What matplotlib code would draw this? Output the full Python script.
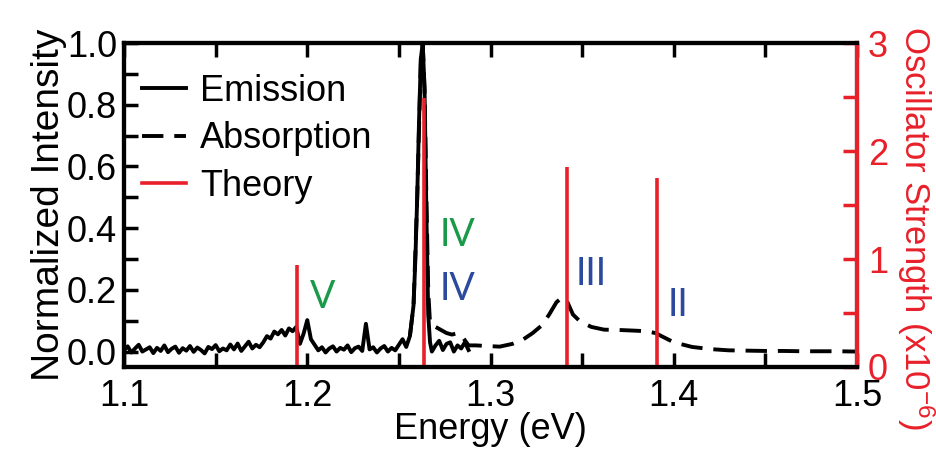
import numpy as np
import matplotlib
matplotlib.use("Agg")
import matplotlib.pyplot as plt
from matplotlib.ticker import MultipleLocator

plt.rcParams['font.family'] = ['Liberation Sans', 'DejaVu Sans']
plt.rcParams['mathtext.default'] = 'regular'

RED = '#e8202a'
GREEN = '#1a9a48'
BLUE = '#2b4a9e'

# --- datos ---
# emision: linea base cada 0.002 eV (1.100 - 1.254) + pico
emis_base_e = np.round(np.arange(1.100, 1.2541, 0.002), 3)
emis_base_i = [
    0.004, 0.017, -0.003, 0.010, 0.022, 0.000, 0.007, 0.014, -0.005, 0.012,
    0.002, 0.020, -0.002, 0.009, 0.016, -0.004, 0.011, 0.003, 0.018, -0.001,
    0.013, 0.005, -0.006, 0.015, 0.008, 0.021, 0.001, 0.010, 0.004, 0.023,
    0.007, 0.026, 0.002, 0.017, 0.032, 0.010, 0.022, 0.014, 0.030,
    0.050, 0.042, 0.065, 0.056, 0.070, 0.052, 0.075, 0.066, 0.080,
    0.025, 0.058, 0.102, 0.040,
    0.022, 0.004, 0.014, -0.003, 0.010, 0.017, 0.000, 0.012, 0.006, 0.020,
    -0.002, 0.011, 0.016, 0.002,
    0.090,
    0.007, 0.014, -0.003, 0.010, 0.018, 0.000, 0.012, 0.004, 0.022,
    0.040, 0.015,
]
emis_peak_e = [1.256, 1.258, 1.259, 1.260, 1.261, 1.262, 1.263, 1.264, 1.265,
               1.266, 1.267, 1.268, 1.270, 1.272, 1.274, 1.276, 1.278, 1.280,
               1.282, 1.284, 1.286, 1.288]
emis_peak_i = [0.05, 0.15, 0.30, 0.50, 0.75, 0.95, 1.00, 0.85, 0.45,
               0.12, 0.03, 0.00, 0.02, 0.035, 0.005, 0.025, 0.03, 0.00,
               0.02, 0.01, 0.03, 0.005]

abs_e = [1.256, 1.258, 1.260, 1.262, 1.263, 1.264, 1.265, 1.266, 1.267, 1.270,
         1.273, 1.276, 1.279, 1.282, 1.285, 1.288, 1.292, 1.298, 1.305, 1.312,
         1.318, 1.323, 1.328, 1.332, 1.336, 1.339, 1.342, 1.345, 1.349, 1.355,
         1.362, 1.370, 1.378, 1.385, 1.390, 1.395, 1.400, 1.410, 1.420, 1.430,
         1.440, 1.450, 1.460, 1.470, 1.480, 1.490, 1.500]
abs_i = [0.05, 0.15, 0.50, 0.95, 1.00, 0.85, 0.50, 0.20, 0.09, 0.08,
         0.07, 0.06, 0.055, 0.06, 0.045, 0.02, 0.02, 0.018, 0.016, 0.025,
         0.04, 0.06, 0.085, 0.12, 0.16, 0.175, 0.16, 0.12, 0.097, 0.08,
         0.071, 0.07, 0.068, 0.066, 0.06, 0.045, 0.03, 0.015, 0.008, 0.004,
         0.003, 0.002, 0.002, 0.001, 0.001, 0.001, 0.0]

theory_e = [1.1945, 1.2635, 1.3417, 1.3908]
theory_f = [0.94, 2.49, 1.85, 1.75]

# etiquetas de estados (texto, E, I, color)
state_labels = [('V', 1.2015, 0.12, GREEN), ('IV', 1.2722, 0.32, GREEN),
                ('IV', 1.2722, 0.145, BLUE), ('III', 1.3465, 0.194, BLUE),
                ('II', 1.3965, 0.094, BLUE)]

emis_e = np.concatenate([emis_base_e, emis_peak_e])
emis_i = np.concatenate([emis_base_i, emis_peak_i])

fig = plt.figure(figsize=(9.36, 4.58), dpi=100)
ax = fig.add_axes([0.1325, 0.1987, 0.7831, 0.7073])
ax2 = ax.twinx()

l1, = ax.plot(emis_e, emis_i, color='black', lw=2.8, label='Emission')
l2, = ax.plot(abs_e, abs_i, color='black', lw=2.8, dashes=(5.5, 2.8), label='Absorption')
ax2.vlines(theory_e, 0, theory_f, color=RED, lw=2.6)
l3, = ax2.plot([], [], color=RED, lw=2.6, label='Theory')

for txt, x, y, c in state_labels:
    ax.text(x, y, txt, color=c, fontsize=27, family=['Lato', 'DejaVu Sans'],
            ha='left', va='bottom')

ax.set_xlim(1.1, 1.5)
ax.set_ylim(-0.05, 1.0)
ax2.set_ylim(0, 3)

ax.xaxis.set_major_locator(MultipleLocator(0.1))
ax.xaxis.set_minor_locator(MultipleLocator(0.05))
ax.yaxis.set_major_locator(MultipleLocator(0.2))
ax.yaxis.set_minor_locator(MultipleLocator(0.1))
ax2.yaxis.set_major_locator(MultipleLocator(1))
ax2.yaxis.set_minor_locator(MultipleLocator(0.5))
ax.yaxis.set_major_formatter(matplotlib.ticker.FormatStrFormatter('%.1f'))
ax.xaxis.set_major_formatter(matplotlib.ticker.FormatStrFormatter('%.1f'))

ax.tick_params(which='both', direction='in', top=True, right=False,
               width=2.5, length=10, labelsize=26, pad=5)
ax.tick_params(axis='x', pad=9)
ax2.tick_params(which='both', direction='in', colors=RED, width=2.5,
                length=10, labelsize=26, pad=8)

for sp in ax.spines.values():
    sp.set_linewidth(3)
for sp in ax2.spines.values():
    sp.set_linewidth(3)
ax2.spines['right'].set_color(RED)

ax.set_xlabel('Energy (eV)', fontsize=26, labelpad=-2)
ax.set_ylabel('Normalized Intensity', fontsize=28, labelpad=0)
ax2.set_ylabel(r'Oscillator Strength (x10$^{-6}$)', fontsize=25, color=RED,
               rotation=270, va='center', ha='center')
ax2.yaxis.set_label_coords(1.08, 0.43)

ax2.legend(handles=[l1, l2, l3], loc='upper left', frameon=False, fontsize=26,
           bbox_to_anchor=(0.025, 0.905), borderaxespad=0, borderpad=0,
           handlelength=1.2, handletextpad=0.4, labelspacing=0.35)

fig.savefig('out.png', dpi=100)
